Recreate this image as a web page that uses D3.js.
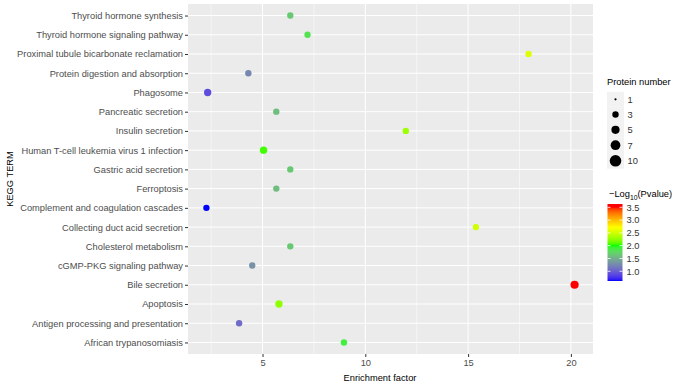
<!DOCTYPE html>
<html><head><meta charset="utf-8">
<script src="https://cdn.jsdelivr.net/npm/d3@7"></script>
<style>body{margin:0;background:#fff}svg{display:block;font-family:"Liberation Sans",Arial,sans-serif}</style>
</head><body><svg id="c" width="677" height="385"></svg>
<script>
const terms = ["Thyroid hormone synthesis","Thyroid hormone signaling pathway","Proximal tubule bicarbonate reclamation","Protein digestion and absorption","Phagosome","Pancreatic secretion","Insulin secretion","Human T-cell leukemia virus 1 infection","Gastric acid secretion","Ferroptosis","Complement and coagulation cascades","Collecting duct acid secretion","Cholesterol metabolism","cGMP-PKG signaling pathway","Bile secretion","Apoptosis","Antigen processing and presentation","African trypanosomiasis"];
const enrichment = [6.35,7.19,17.94,4.31,2.33,5.67,11.97,5.05,6.35,5.67,2.27,15.38,6.35,4.50,20.18,5.80,3.86,8.96];
const proteinCount = [3,3,3,3,4,3,3,4,3,3,3,3,3,3,5,4,3,3];
const logP = [1.66,1.82,2.56,1.24,0.90,1.59,2.30,2.05,1.66,1.59,0.62,2.50,1.66,1.31,3.63,2.25,1.08,1.90];
const xTicks = [5,10,15,20];
const xMinor = [2.5,7.5,12.5,17.5];
const sizeBreaks = [1,3,5,7,10];
const colorBreaks = [1.0,1.5,2.0,2.5,3.0,3.5];
const colorStops = [0.62,2.0,2.72,3.5];
const colorRange = ["#0000ff","#00ff00","#ffff00","#ff0000"];

const svg = d3.select("#c");
const P = {l:188, r:593, t:4, b:354};
const ext = d3.extent(enrichment), pad = (ext[1]-ext[0])*0.05;
const x = d3.scaleLinear().domain([ext[0]-pad, ext[1]+pad]).range([P.l,P.r]);
const y = d3.scalePoint().domain(terms).range([P.t,P.b]).padding(0.6);
const r = d3.scaleSqrt().domain([0,10]).range([0,5.8]);
const col = d3.scaleLinear().domain(colorStops).range(colorRange).interpolate(d3.interpolateLab).clamp(true);
const cExt = d3.extent(logP);

svg.append("rect").attr("x",P.l).attr("y",P.t).attr("width",P.r-P.l).attr("height",P.b-P.t).attr("fill","#ebebeb");
svg.selectAll(".mnx").data(xMinor).enter().append("line").attr("x1",d=>x(d)).attr("x2",d=>x(d)).attr("y1",P.t).attr("y2",P.b).attr("stroke","#fff").attr("stroke-width",0.5);
svg.selectAll(".mjx").data(xTicks).enter().append("line").attr("x1",d=>x(d)).attr("x2",d=>x(d)).attr("y1",P.t).attr("y2",P.b).attr("stroke","#fff").attr("stroke-width",1);
svg.selectAll(".mjy").data(terms).enter().append("line").attr("x1",P.l).attr("x2",P.r).attr("y1",d=>y(d)).attr("y2",d=>y(d)).attr("stroke","#fff").attr("stroke-width",1);

// axes
const xa = svg.append("g").attr("transform",`translate(0,${P.b})`).call(d3.axisBottom(x).tickValues(xTicks).tickSize(3).tickPadding(2).tickFormat(d3.format("d")));
const ya = svg.append("g").attr("transform",`translate(${P.l},0)`).call(d3.axisLeft(y).tickSize(3).tickPadding(2));
[xa,ya].forEach(a=>{a.select(".domain").remove();a.selectAll(".tick line").attr("stroke","#333");a.selectAll("text").attr("fill","#4d4d4d").style("font-size","9.3px").style("font-family","Liberation Sans, Arial, sans-serif");});

// points
svg.selectAll(".pt").data(terms).enter().append("circle")
 .attr("cx",(d,i)=>x(enrichment[i])).attr("cy",d=>y(d)).attr("r",(d,i)=>r(proteinCount[i])).attr("fill",(d,i)=>col(logP[i]));

// axis titles
svg.append("text").attr("x",380).attr("y",381).attr("text-anchor","middle").style("font-size","9.3px").text("Enrichment factor");
svg.append("text").attr("transform",`translate(13,${(P.t+P.b)/2}) rotate(-90)`).attr("text-anchor","middle").style("font-size","9.3px").text("KEGG TERM");

// size legend
svg.append("text").attr("x",607).attr("y",85).style("font-size","9.3px").text("Protein number");
const keyY = [99.3,114.5,129.8,145.2,160.8], keyH=[15,15.2,15.3,15.5,15.8];
sizeBreaks.forEach((s,i)=>{
  svg.append("rect").attr("x",607).attr("y",keyY[i]-keyH[i]/2).attr("width",17).attr("height",keyH[i]).attr("fill","#f2f2f2");
  svg.append("circle").attr("cx",615.5).attr("cy",keyY[i]).attr("r",s===1?1.1:r(s)).attr("fill","#000");
  svg.append("text").attr("x",627.5).attr("y",keyY[i]+3.3).attr("fill","#333").style("font-size","9.3px").text(s);
});

// colour legend
const t = svg.append("text").attr("x",609).attr("y",197).style("font-size","9.3px");
t.append("tspan").text("\u2212Log");
t.append("tspan").attr("dy",3).style("font-size","6.8px").text("10");
t.append("tspan").attr("dy",-3).text("(Pvalue)");
const cb = {x:607.5,w:15,t:204,b:281};
const cy = d3.scaleLinear().domain(cExt).range([cb.b,cb.t]);
const grad = svg.append("defs").append("linearGradient").attr("id","g").attr("x1",0).attr("x2",0).attr("y1",1).attr("y2",0);
d3.range(0,1.0001,0.02).forEach(f=>grad.append("stop").attr("offset",f).attr("stop-color",col(cExt[0]+f*(cExt[1]-cExt[0]))));
svg.append("rect").attr("x",cb.x).attr("y",cb.t).attr("width",cb.w).attr("height",cb.b-cb.t).attr("fill","url(#g)");
colorBreaks.forEach(v=>{
  const yy=cy(v);
  svg.append("line").attr("x1",cb.x).attr("x2",cb.x+3).attr("y1",yy).attr("y2",yy).attr("stroke","#fff").attr("stroke-width",0.8);
  svg.append("line").attr("x1",cb.x+cb.w-3).attr("x2",cb.x+cb.w).attr("y1",yy).attr("y2",yy).attr("stroke","#fff").attr("stroke-width",0.8);
  svg.append("text").attr("x",626.5).attr("y",yy+3.3).attr("fill","#333").style("font-size","9.3px").text(d3.format(".1f")(v));
});
</script></body></html>
